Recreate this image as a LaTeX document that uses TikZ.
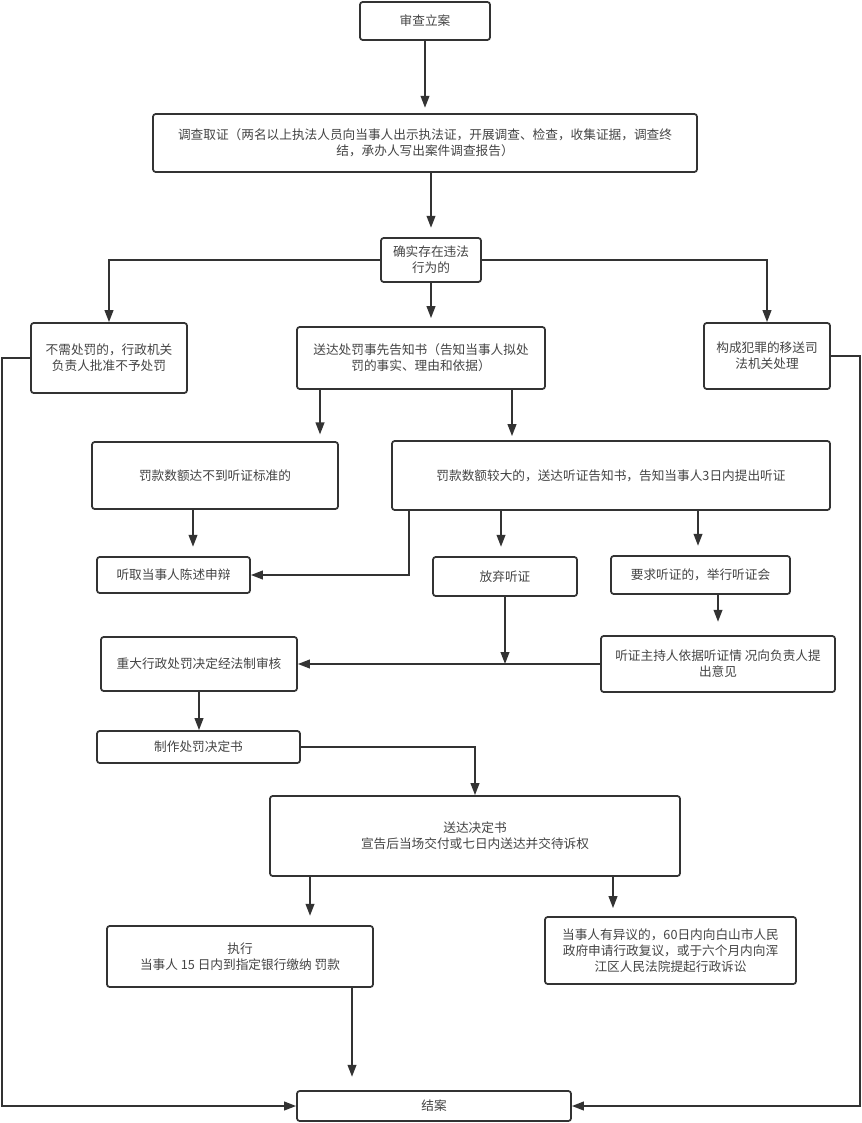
\documentclass[tikz,border=0pt]{standalone}
\usepackage{fontspec}
\setmainfont{Noto Sans CJK SC}
\usetikzlibrary{arrows.meta}
\definecolor{linec}{HTML}{333333}
\definecolor{textc}{HTML}{444444}
\newcommand\mybox[6]{\node[box, minimum width={(#4-#2)*0.75pt}, minimum height={(#5-#3)*0.75pt}] (#1) at ({(#2+#4)/2},{(#3+#5)/2}) {#6};}
\begin{document}
\begin{tikzpicture}[x=0.75pt,y=-0.75pt,
  box/.style={draw=linec, line width=1.3pt, rounded corners=2pt, inner sep=0pt, align=center, text=textc, font=\fontsize{9.5pt}{12pt}\selectfont},
  arr/.style={draw=linec, line width=1.4pt, -{Triangle[length=9pt,width=6.5pt]}},
  ln/.style={draw=linec, line width=1.4pt}]
\fill[white] (0,0) rectangle (862,1123);
\useasboundingbox (0,0) rectangle (862,1123);
% nodes
\mybox{a1}{360}{2}{490}{40}{审查立案}
\mybox{a2}{153}{114}{697}{172}{调查取证（两名以上执法人员向当事人出示执法证，开展调查、检查，收集证据，调查终\\结，承办人写出案件调查报告）}
\mybox{a3}{381}{238}{481}{282}{确实存在违法\\行为的}
\mybox{b1}{31}{323}{187}{393}{不需处罚的，行政机关\\负责人批准不予处罚}
\mybox{b2}{297}{327}{545}{389}{送达处罚事先告知书（告知当事人拟处\\罚的事实、理由和依据）}
\mybox{b3}{704}{323}{830}{389}{构成犯罪的移送司\\法机关处理}
\mybox{c1}{92}{442}{338}{509}{罚款数额达不到听证标准的}
\mybox{c2}{392}{441}{830}{510}{罚款数额较大的，送达听证告知书，告知当事人3日内提出听证}
\mybox{d1}{97}{557}{250}{593}{听取当事人陈述申辩}
\mybox{d2}{433}{557}{577}{596}{放弃听证}
\mybox{d3}{611}{556}{790}{594}{要求听证的，举行听证会}
\mybox{e1}{101}{637}{297}{691}{重大行政处罚决定经法制审核}
\mybox{e2}{601}{636}{835}{692}{听证主持人依据听证情 况向负责人提\\出意见}
\mybox{f1}{97}{731}{300}{763}{制作处罚决定书}
\mybox{g1}{270}{796}{680}{876}{送达决定书\\宣告后当场交付或七日内送达并交待诉权}
\mybox{h1}{107}{926}{373}{987}{执行\\当事人 15 日内到指定银行缴纳 罚款}
\mybox{h2}{545}{917}{796}{984}{当事人有异议的，60日内向白山市人民\\政府申请行政复议，或于六个月内向浑\\江区人民法院提起行政诉讼}
\mybox{z}{297}{1091}{571}{1121}{结案}
% helper x positions
\coordinate (x2) at (2,0);
\coordinate (x193) at (193,0);
\coordinate (x310) at (310,0);
\coordinate (x320) at (320,0);
\coordinate (x352) at (352,0);
\coordinate (x409) at (409,0);
\coordinate (x501) at (501,0);
\coordinate (x512) at (512,0);
\coordinate (x613) at (613,0);
\coordinate (x698) at (698,0);
\coordinate (x860) at (860,0);
% connectors
\draw[arr, shorten >=4pt] (a1.south) -- (a2.north);
\draw[arr, shorten >=7pt] (a3.north |- a2.south) -- (a3.north);
\draw[arr] (a3.west) -| (b1.north);
\draw[arr] (a3.east) -| (b3.north);
\draw[arr, shorten >=6pt] (a3.south) -- (a3.south |- b2.north);
\draw[arr, shorten >=5pt] (b2.south -| x320) -- (c1.north -| x320);
\draw[arr, shorten >=3pt] (b2.south -| x512) -- (c2.north -| x512);
\draw[arr, shorten >=7pt] (c1.south -| x193) -- (d1.north -| x193);
\draw[arr] (c2.south -| x409) |- (d1.east);
\draw[arr, shorten >=7pt] (c2.south -| x501) -- (d2.north -| x501);
\draw[arr, shorten >=7pt] (c2.south -| x698) -- (d3.north -| x698);
\draw[arr, shorten >=10pt] (d3.south -| e2.north) -- (e2.north);
\draw[arr] (e2.west) -- (e1.east);
\draw[arr] (d2.south) -- (d2.south |- e2.west);
\draw[arr] (e1.south) -- (f1.north -| e1.south);
\draw[arr] (f1.east) -| (g1.north);
\draw[arr, shorten >=7pt] (g1.south -| x310) -- (h1.north -| x310);
\draw[arr, shorten >=6pt] (g1.south -| x613) -- (h2.north -| x613);
\draw[arr, shorten >=10pt] (h1.south -| x352) -- (z.north -| x352);
\draw[arr] (b1.west) -- (b1.west -| x2) |- (z.west);
\draw[arr] (b3.east) -- (b3.east -| x860) |- (z.east);
\end{tikzpicture}
\end{document}
